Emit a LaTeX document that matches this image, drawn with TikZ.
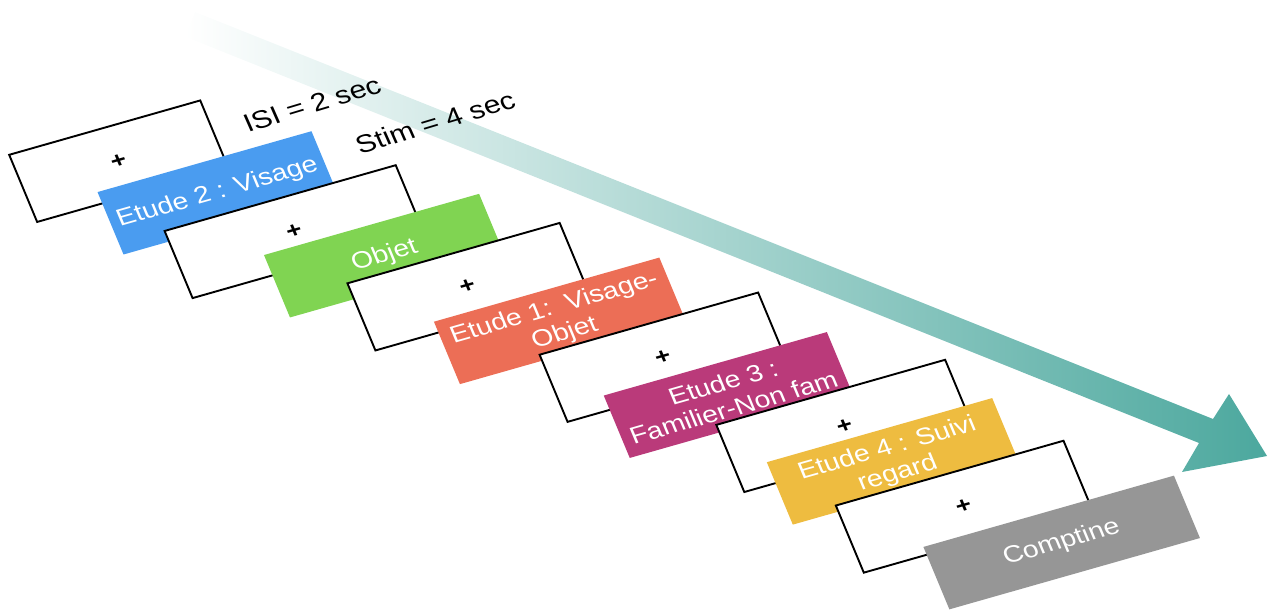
\documentclass[tikz,border=0pt]{standalone}
\usepackage{fontspec}
\setmainfont{Liberation Sans}
\definecolor{cblue}{RGB}{74,156,240}
\definecolor{cgreen}{RGB}{128,212,82}
\definecolor{corange}{RGB}{236,110,86}
\definecolor{cmagenta}{RGB}{186,58,122}
\definecolor{cyellow}{RGB}{238,188,64}
\definecolor{cgray}{RGB}{150,150,150}
\definecolor{arrowmid}{RGB}{132,200,193}
\definecolor{arrowend}{RGB}{76,168,158}
\begin{document}
\begin{tikzpicture}[x=1pt,y=1pt,
  whitebox/.style={draw=black, line width=1.9pt, fill=white, minimum height=71pt,
    inner sep=0pt, rotate=19, font=\fontsize{22}{26}\selectfont\bfseries},
  colbox/.style={fill=#1, minimum height=66pt, inner sep=0pt, rotate=19,
    text=white, align=center, font=\fontsize{23.5}{26.5}\selectfont},
  note/.style={rotate=20, inner sep=0pt, font=\fontsize{25}{28}\selectfont}]
\useasboundingbox (0,0) rectangle (1268,610);
\shade[left color=white, middle color=arrowmid, right color=arrowend]
  (195,598) -- (1213,191) -- (1229,216) -- (1267,154) -- (1182,138)
  -- (1199,167) -- (185,573.4) -- cycle;
\begin{scope}[xscale=1.21, transform shape]
  \node[note] (isi) at (257.9,506) {ISI = 2 sec};
  \node[note] (stim) at (359.5,488) {Stim = 4 sec};
  \node[whitebox, minimum width=167pt] (w1) at (98.1,448.8) {+};
  \node[colbox=cblue, minimum width=187pt] (c1) at (179.75,417.15) {Etude 2 : Visage};
  \node[whitebox, minimum width=202pt] (w2) at (243.1,378.35) {+};
  \node[colbox=cgreen, minimum width=188pt] (c2) at (317.8,354.35) {Objet};
  \node[whitebox, minimum width=185.5pt] (w3) at (386.4,323.3) {+};
  \node[colbox=corange, minimum width=197pt] (c3) at (462.5,289.15) {Etude 1:\ \ Visage-\\Objet};
  \node[whitebox, minimum width=191pt] (w4) at (547.8,252.8) {+};
  \node[colbox=cmagenta, minimum width=195pt] (c4) at (601.9,215) {Etude 3 :\\Familier-Non fam};
  \node[whitebox, minimum width=200pt] (w5) at (698.1,184.1) {+};
  \node[colbox=cyellow, minimum width=197pt] (c5) at (737.6,148.65) {Etude 4 : Suivi\\regard};
  \node[whitebox, minimum width=199pt] (w6) at (796.4,103.3) {+};
  \node[colbox=cgray, minimum width=219pt] (c6) at (877.4,67.5) {Comptine};
\end{scope}
\end{tikzpicture}
\end{document}
